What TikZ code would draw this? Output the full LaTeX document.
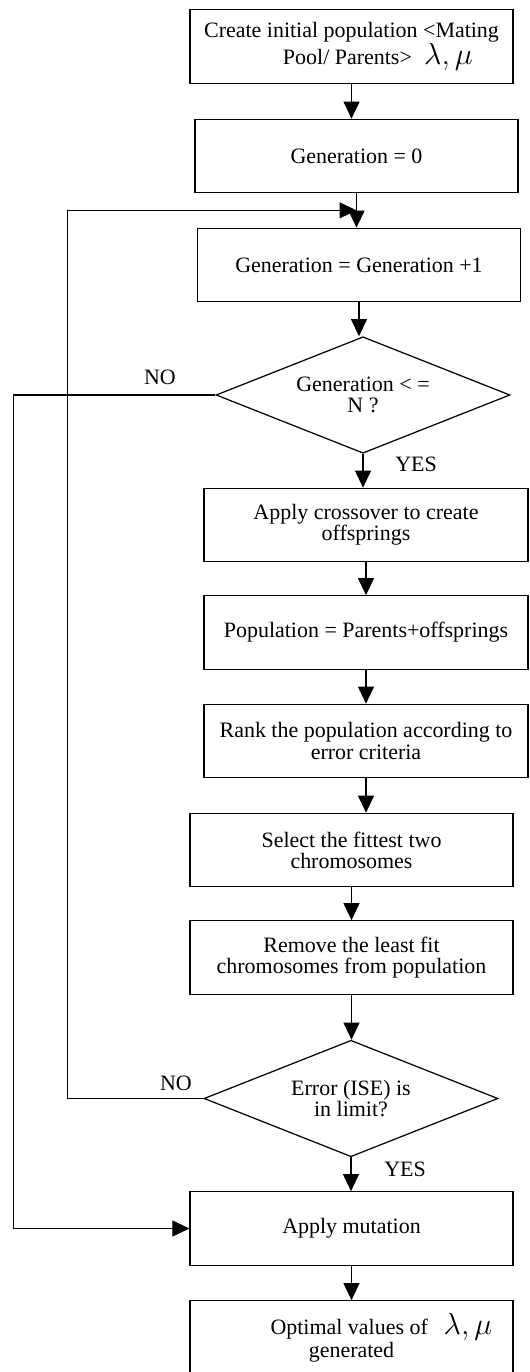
\documentclass[tikz,border=0pt]{standalone}
\usepackage{fontspec}
\setmainfont{Liberation Serif}
\usetikzlibrary{shapes.geometric,arrows.meta}

\newcommand{\lammu}{{\fontsize{18}{18}\selectfont$\lambda,\mu$}}

\begin{document}
\begin{tikzpicture}[x=0.02cm,y=-0.02cm,
	txt/.style={font=\fontsize{12.5}{12}\selectfont},
	box/.style={draw,txt,line width=0.7pt,minimum width=6.46cm,minimum height=1.47cm,align=center,inner sep=1pt},
	test/.style={draw,txt,diamond,aspect=2.5,line width=0.7pt,minimum width=5.88cm,minimum height=2.33cm,inner sep=0pt,align=center},
	arr/.style={-{Triangle[length=3.4mm,width=3.2mm]},line width=0.6pt}]
	\useasboundingbox (0,0) rectangle (529,1372);
	
	\node[box] (init) at (351.5,46.5) {Create initial population <Mating\\\hspace*{30pt}Pool/ Parents>\hspace{7pt}\lammu};
	\node[box] (gen0) at (356.5,156) {Generation = 0};
	\node[box] (geninc) at (359,265) {Generation = Generation +1};
	\node[test] (cond1) at (363,395) {Generation < =\\N ?};
	\node[box,minimum width=6.48cm] (cross) at (366,525) {Apply crossover to create\\offsprings};
	\node[box,minimum width=6.48cm] (pop) at (366,632.5) {Population = Parents+offsprings};
	\node[box,minimum width=6.48cm] (rank) at (366,741) {Rank the population according to\\error criteria};
	\node[box] (select) at (351.5,850) {Select the fittest two\\chromosomes};
	\node[box] (remove) at (351.5,957.5) {Remove the least fit\\chromosomes from population};
	\node[test] (cond2) at (351,1098.5) {Error (ISE) is\\in limit?};
	\node[box] (mut) at (351.5,1228.5) {Apply mutation};
	\node[box] (opt) at (351.5,1337.5) {\hspace*{34pt}Optimal values of\hspace{9pt}\lammu\\generated};
	
	\node[txt] (no1) at (160,377) {NO};
	\node[txt] (yes1) at (416,464) {YES};
	\node[txt] (no2) at (176,1083) {NO};
	\node[txt] (yes2) at (405,1169) {YES};
	
	\draw[arr] (init.south) -- (init.south |- gen0.north);
	\draw[arr] (gen0.south) -- (gen0.south |- geninc.north);
	\draw[arr] (geninc.south) -- (geninc.south |- cond1.north);
	\draw[arr] (cond1.south) -- (cond1.south |- cross.north);
	\draw[arr] (cross.south) -- (cross.south |- pop.north);
	\draw[arr] (pop.south) -- (pop.south |- rank.north);
	\draw[arr] (rank.south) -- (rank.south |- select.north);
	\draw[arr] (select.south) -- (select.south |- remove.north);
	\draw[arr] (remove.south) -- (remove.south |- cond2.north);
	\draw[arr] (cond2.south) -- (cond2.south |- mut.north);
	\draw[arr] (mut.south) -- (mut.south |- opt.north);
	
	\path (gen0.south) ++(0,17) coordinate (loopin);
	\draw[arr] (cond2.west) -- ++(-136,0) |- (loopin);
	\draw[arr] (cond1.west) -- ++(-202,0) |- (mut.west);
\end{tikzpicture}
\end{document}
